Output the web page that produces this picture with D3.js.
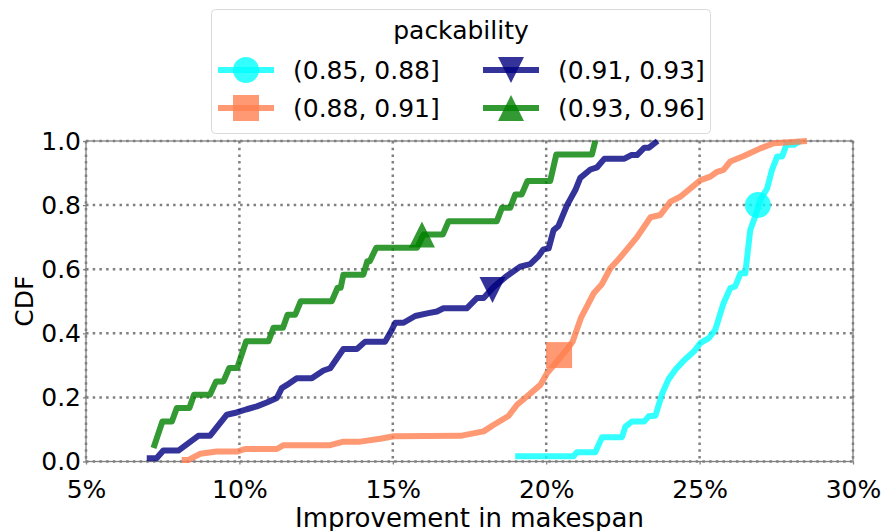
<!DOCTYPE html>
<html>
<head>
<meta charset="utf-8">
<script src="https://cdnjs.cloudflare.com/ajax/libs/d3/7.8.5/d3.min.js"></script>
<style>
  body { margin: 0; background: #fff; }
  svg { display: block; }
  text { font-family: 'DejaVu Sans', sans-serif; fill: #000; }
</style>
</head>
<body>
<div id="chart"></div>
<script>
// improvement in makespan (%) and CDF values, one pair of arrays per packability bin
var imp1 = [18.99, 20.89, 21.0, 21.6, 21.82, 22.47, 22.58, 22.8, 23.2, 23.34, 23.56, 23.78, 23.99, 24.24, 24.54, 24.81, 25.03, 25.3, 25.51, 25.78, 26.0, 26.16, 26.33, 26.49, 26.65, 26.81, 26.98, 27.2, 27.36, 27.53, 27.69, 27.83, 28.07, 28.29];
var cdf1 = [0.016, 0.016, 0.029, 0.029, 0.076, 0.076, 0.109, 0.125, 0.125, 0.141, 0.143, 0.212, 0.257, 0.29, 0.32, 0.343, 0.37, 0.385, 0.411, 0.494, 0.541, 0.546, 0.587, 0.587, 0.722, 0.764, 0.816, 0.852, 0.91, 0.952, 0.952, 0.988, 0.988, 1.0];

var imp2 = [8.12, 8.34, 8.72, 9.26, 9.92, 10.18, 11.22, 11.44, 12.96, 13.39, 13.94, 14.59, 15.03, 17.2, 17.96, 18.28, 18.77, 19.05, 19.37, 19.81, 20.03, 20.35, 20.66, 20.86, 21.14, 21.55, 21.82, 22.09, 22.36, 22.63, 22.96, 23.4, 23.72, 24.05, 24.37, 25.03, 25.35, 25.57, 25.78, 26.0, 26.44, 26.98, 27.42, 28.5];
var cdf2 = [0.005, 0.005, 0.024, 0.031, 0.031, 0.039, 0.039, 0.051, 0.051, 0.062, 0.062, 0.071, 0.079, 0.08, 0.094, 0.114, 0.142, 0.177, 0.203, 0.239, 0.276, 0.312, 0.348, 0.374, 0.45, 0.525, 0.554, 0.603, 0.631, 0.662, 0.7, 0.762, 0.769, 0.811, 0.826, 0.878, 0.889, 0.904, 0.91, 0.936, 0.953, 0.977, 0.993, 1.0];

var imp3 = [6.98, 7.3, 7.52, 8.01, 8.66, 9.04, 9.59, 9.91, 10.24, 10.57, 10.89, 11.22, 11.38, 11.55, 11.87, 12.36, 12.74, 12.96, 13.39, 13.83, 14.1, 14.75, 14.97, 15.08, 15.35, 15.73, 16.16, 16.44, 16.65, 17.41, 17.74, 17.96, 18.28, 18.72, 19.15, 19.48, 19.75, 19.91, 20.08, 20.24, 20.4, 20.68, 20.95, 21.11, 21.44, 21.66, 21.9, 22.55, 22.77, 22.96, 23.2, 23.35, 23.63];
var cdf3 = [0.01, 0.01, 0.034, 0.034, 0.08, 0.08, 0.146, 0.153, 0.163, 0.172, 0.184, 0.198, 0.229, 0.239, 0.26, 0.26, 0.284, 0.291, 0.351, 0.351, 0.374, 0.374, 0.411, 0.433, 0.433, 0.454, 0.463, 0.468, 0.478, 0.478, 0.51, 0.51, 0.544, 0.579, 0.608, 0.616, 0.641, 0.662, 0.665, 0.722, 0.735, 0.8, 0.847, 0.885, 0.911, 0.918, 0.945, 0.945, 0.956, 0.956, 0.979, 0.979, 1.0];

var imp4 = [7.2, 7.49, 7.8, 7.96, 8.37, 8.52, 9.04, 9.24, 9.48, 9.67, 9.93, 10.22, 10.95, 11.11, 11.42, 11.57, 11.82, 12.0, 13.01, 13.2, 13.3, 13.39, 14.04, 14.17, 14.25, 14.46, 15.79, 16.0, 16.63, 16.82, 18.39, 18.56, 18.83, 18.99, 19.2, 19.39, 20.13, 20.33, 21.49, 21.6];
var cdf4 = [0.042, 0.125, 0.125, 0.167, 0.167, 0.208, 0.208, 0.25, 0.25, 0.292, 0.292, 0.375, 0.375, 0.417, 0.417, 0.458, 0.458, 0.5, 0.5, 0.542, 0.542, 0.583, 0.583, 0.625, 0.625, 0.667, 0.667, 0.708, 0.708, 0.75, 0.75, 0.792, 0.792, 0.833, 0.833, 0.875, 0.875, 0.958, 0.958, 1.0];

var labels = ["(0.85, 0.88]", "(0.88, 0.91]", "(0.91, 0.93]", "(0.93, 0.96]"];
var colours = ["#00ffff", "#ff7f50", "#000080", "#008000"];
// one marker per curve
var markX = [26.9, 20.42, 18.25, 15.95];
var markY = [0.8, 0.332, 0.535, 0.708];

var xTicks = [5, 10, 15, 20, 25, 30];
var yTicks = [0, 0.2, 0.4, 0.6, 0.8, 1.0];

var width = 885, height = 531;
var plotLeft = 86, plotRight = 853, plotTop = 141, plotBottom = 461.5;

var svg = d3.select("#chart").append("svg")
    .attr("width", width)
    .attr("height", height);

var x = d3.scaleLinear().domain([5, 30]).range([plotLeft, plotRight]);
var y = d3.scaleLinear().domain([0, 1]).range([plotBottom, plotTop]);

// dotted grid
svg.append("g").selectAll("line")
    .data(xTicks)
    .enter().append("line")
    .attr("x1", function (d) { return x(d); })
    .attr("x2", function (d) { return x(d); })
    .attr("y1", plotTop).attr("y2", plotBottom)
    .style("stroke", "#808080")
    .style("stroke-width", 2.5)
    .style("stroke-dasharray", "2.5,4.2");
svg.append("g").selectAll("line")
    .data(yTicks)
    .enter().append("line")
    .attr("y1", function (d) { return y(d); })
    .attr("y2", function (d) { return y(d); })
    .attr("x1", plotLeft).attr("x2", plotRight)
    .style("stroke", "#808080")
    .style("stroke-width", 2.5)
    .style("stroke-dasharray", "2.5,4.2");

// frame
svg.append("rect")
    .attr("x", plotLeft).attr("y", plotTop)
    .attr("width", plotRight - plotLeft).attr("height", plotBottom - plotTop)
    .style("fill", "none")
    .style("stroke", "#808080")
    .style("stroke-width", 1.3);

var xAxis = svg.append("g")
    .attr("transform", "translate(0," + plotBottom + ")")
    .call(d3.axisBottom(x).tickValues(xTicks).tickSize(3).tickPadding(16)
        .tickFormat(function (d) { return d + "%"; }));
var yAxis = svg.append("g")
    .attr("transform", "translate(" + plotLeft + ",0)")
    .call(d3.axisLeft(y).tickValues(yTicks).tickSize(3).tickPadding(2)
        .tickFormat(d3.format(".1f")));
[xAxis, yAxis].forEach(function (a) {
    a.select(".domain").remove();
    a.selectAll(".tick line").style("stroke", "#808080").style("stroke-width", 1.3);
    a.selectAll("text")
        .style("font-family", "'DejaVu Sans', sans-serif")
        .style("font-size", "25px")
        .style("fill", "#000");
});

svg.append("text")
    .attr("x", (plotLeft + plotRight) / 2)
    .attr("y", 527)
    .attr("text-anchor", "middle")
    .style("font-size", "26px")
    .text("Improvement in makespan");
svg.append("text")
    .attr("transform", "translate(33," + ((plotTop + plotBottom) / 2) + ") rotate(-90)")
    .attr("text-anchor", "middle")
    .style("font-size", "25px")
    .text("CDF");

// marker shapes: circle, square, triangle down, triangle up
var triUp = {
    draw: function (ctx, size) {
        var r = Math.sqrt(size) / 2;
        ctx.moveTo(0, -r); ctx.lineTo(r, r); ctx.lineTo(-r, r); ctx.closePath();
    }
};
var triDown = {
    draw: function (ctx, size) {
        var r = Math.sqrt(size) / 2;
        ctx.moveTo(0, r); ctx.lineTo(r, -r); ctx.lineTo(-r, -r); ctx.closePath();
    }
};
var shapes = [
    d3.symbol().type(d3.symbolCircle).size(Math.PI * 13 * 13),
    d3.symbol().type(d3.symbolSquare).size(26 * 26),
    d3.symbol().type(triDown).size(26 * 26),
    d3.symbol().type(triUp).size(26 * 26)
];

var series = [
    d3.zip(imp1, cdf1),
    d3.zip(imp2, cdf2),
    d3.zip(imp3, cdf3),
    d3.zip(imp4, cdf4)
];

var line = d3.line()
    .x(function (d) { return x(d[0]); })
    .y(function (d) { return y(d[1]); });

series.forEach(function (s, i) {
    svg.append("path")
        .attr("d", line(s))
        .style("fill", "none")
        .style("stroke", colours[i])
        .style("stroke-opacity", 0.8)
        .style("stroke-width", 6)
        .style("stroke-linejoin", "round")
        .style("stroke-linecap", "butt");
    svg.append("path")
        .attr("d", shapes[i]())
        .attr("transform", "translate(" + x(markX[i]) + "," + y(markY[i]) + ")")
        .style("fill", colours[i])
        .style("fill-opacity", 0.8);
});

// legend
var legend = svg.append("g");
legend.append("rect")
    .attr("x", 211.5).attr("y", 9.5)
    .attr("width", 499).attr("height", 124)
    .attr("rx", 4)
    .style("fill", "#fff")
    .style("fill-opacity", 0.8)
    .style("stroke", "#d9d9d9")
    .style("stroke-width", 1);
legend.append("text")
    .attr("x", 461).attr("y", 39)
    .attr("text-anchor", "middle")
    .style("font-size", "25px")
    .text("packability");

var item = legend.selectAll(".item")
    .data(labels)
    .enter().append("g")
    .attr("class", "item")
    .attr("transform", function (d, i) {
        var col = Math.floor(i / 2), row = i % 2;
        return "translate(" + (218 + col * 265) + "," + (70 + row * 38) + ")";
    });
item.append("line")
    .attr("x1", 0).attr("x2", 56)
    .style("stroke", function (d, i) { return colours[i]; })
    .style("stroke-width", 6)
    .style("stroke-opacity", 0.8);
item.append("path")
    .attr("d", function (d, i) { return shapes[i](); })
    .attr("transform", "translate(28,0)")
    .style("fill", function (d, i) { return colours[i]; })
    .style("fill-opacity", 0.8);
item.append("text")
    .attr("x", 75)
    .attr("y", 9)
    .style("font-size", "25px")
    .text(function (d) { return d; });
</script>
</body>
</html>
